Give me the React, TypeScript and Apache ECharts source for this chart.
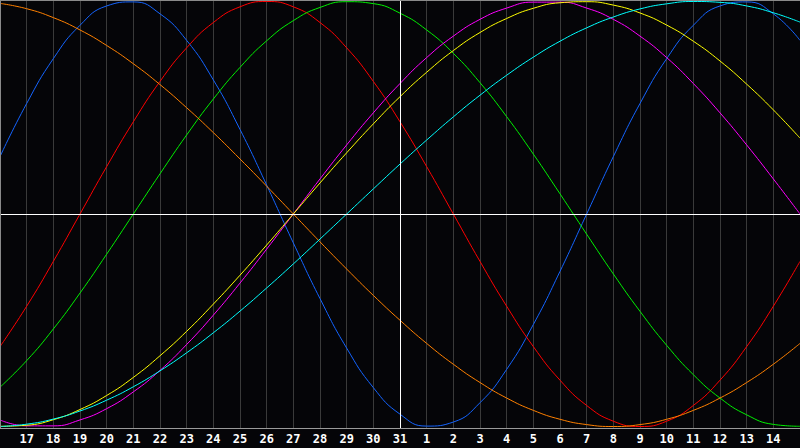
import React, { useEffect, useRef } from "react";
import * as echarts from "echarts";

const days = [
  "16", "17", "18", "19", "20", "21", "22", "23", "24", "25", "26", "27", "28", "29", "30", "31",
  "1", "2", "3", "4", "5", "6", "7", "8", "9", "10", "11", "12", "13", "14", "15",
];

// blue (23)
const physical = [
  0.270, 0.520, 0.731, 0.888, 0.979, 0.998, 0.942, 0.817, 0.631, 0.398, 0.136,
  -0.136, -0.398, -0.631, -0.817, -0.942, -0.998, -0.979, -0.888, -0.731, -0.520,
  -0.270, 0.0, 0.270, 0.520, 0.731, 0.888, 0.979, 0.998, 0.942, 0.817,
];
// red (28)
const emotional = [
  -0.624, -0.434, -0.223, 0.0, 0.223, 0.434, 0.624, 0.782, 0.901, 0.975, 1.0,
  0.975, 0.901, 0.782, 0.624, 0.434, 0.223, 0.0, -0.223, -0.434, -0.624,
  -0.782, -0.901, -0.975, -1.0, -0.975, -0.901, -0.782, -0.624, -0.434, -0.223,
];
// green (33)
const intellectual = [
  -0.815, -0.690, -0.541, -0.372, -0.189, 0.0, 0.189, 0.372, 0.541, 0.690, 0.815,
  0.910, 0.972, 0.999, 0.990, 0.945, 0.866, 0.756, 0.618, 0.458, 0.282,
  0.095, -0.095, -0.282, -0.458, -0.618, -0.756, -0.866, -0.945, -0.990, -0.999,
];
// magenta (38)
const intuitive = [
  -0.969, -0.997, -0.997, -0.969, -0.916, -0.837, -0.736, -0.614, -0.476, -0.325, -0.165,
  0.0, 0.165, 0.325, 0.476, 0.614, 0.736, 0.837, 0.916, 0.969, 0.997,
  0.997, 0.969, 0.916, 0.837, 0.736, 0.614, 0.476, 0.325, 0.165, 0.0,
];
// yellow (43)
const aesthetic = [
  -0.999, -0.994, -0.968, -0.920, -0.854, -0.769, -0.667, -0.552, -0.424, -0.288, -0.146,
  0.0, 0.146, 0.288, 0.424, 0.552, 0.667, 0.769, 0.854, 0.920, 0.968,
  0.994, 0.999, 0.983, 0.946, 0.889, 0.813, 0.720, 0.611, 0.490, 0.357,
];
// orange (48)
const awareness = [
  0.991, 0.966, 0.924, 0.866, 0.793, 0.707, 0.609, 0.5, 0.383, 0.259, 0.131,
  0.0, -0.131, -0.259, -0.383, -0.5, -0.609, -0.707, -0.793, -0.866, -0.924,
  -0.966, -0.991, -1.0, -0.991, -0.966, -0.924, -0.866, -0.793, -0.707, -0.609,
];
// cyan (53)
const spiritual = [
  -1.0, -0.989, -0.965, -0.927, -0.876, -0.813, -0.738, -0.653, -0.559, -0.457, -0.348,
  -0.235, -0.118, 0.0, 0.118, 0.235, 0.348, 0.457, 0.559, 0.653, 0.738,
  0.813, 0.876, 0.927, 0.965, 0.989, 1.0, 0.996, 0.979, 0.947, 0.903,
];

const curves = [
  { name: "physical", data: physical, color: "#1464ff" },
  { name: "emotional", data: emotional, color: "#ff0000" },
  { name: "intellectual", data: intellectual, color: "#00f000" },
  { name: "intuitive", data: intuitive, color: "#ff00ff" },
  { name: "aesthetic", data: aesthetic, color: "#ffff00" },
  { name: "awareness", data: awareness, color: "#ff8000" },
  { name: "spiritual", data: spiritual, color: "#00ffff" },
];

const todayIndex = 15;

export default function App() {
  const ref = useRef<HTMLDivElement>(null);
  useEffect(() => {
    if (!ref.current) return;
    const chart = echarts.init(ref.current, null, { renderer: "svg" });
    const series: any[] = curves.map((c, i) => ({
      name: c.name,
      type: "line",
      data: c.data,
      smooth: true,
      showSymbol: false,
      symbol: "none",
      z: 3,
      lineStyle: { color: c.color, width: 1 },
      silent: true,
    }));
    series.unshift({
      type: "line",
      data: [],
      z: 2,
      markLine: {
        silent: true,
        symbol: "none",
        label: { show: false },
        lineStyle: { color: "#ffffff", width: 1, type: "solid" },
        data: [{ xAxis: todayIndex }, { yAxis: 0 }],
      },
    });
    chart.setOption({
      animation: false,
      backgroundColor: "#050508",
      grid: { left: 0, right: 0, top: 0, height: 428, containLabel: false },
      xAxis: {
        type: "category",
        data: days,
        boundaryGap: false,
        axisLine: { show: false },
        axisTick: { show: false },
        axisLabel: {
          interval: (idx: number) => idx > 0 && idx < days.length - 1,
          color: "#ffffff",
          fontFamily: "DejaVu Sans Mono",
          fontWeight: "bold",
          fontSize: 12,
          verticalAlign: "middle",
          margin: 11,
        },
        splitLine: {
          show: true,
          interval: 0,
          lineStyle: { color: "#3a3a3a", width: 1 },
        },
      },
      yAxis: {
        type: "value",
        min: -1.007,
        max: 1.007,
        show: false,
        splitLine: { show: false },
      },
      graphic: [
        { type: "line", shape: { x1: 0, y1: 0.5, x2: 800, y2: 0.5 }, style: { stroke: "#8a8a8a", lineWidth: 1 }, z: 10 },
        { type: "line", shape: { x1: 0.5, y1: 0, x2: 0.5, y2: 428 }, style: { stroke: "#8a8a8a", lineWidth: 1 }, z: 10 },
        { type: "line", shape: { x1: 0, y1: 428.5, x2: 800, y2: 428.5 }, style: { stroke: "#9a9a9a", lineWidth: 1 }, z: 10 },
      ],
      series,
    });
    return () => chart.dispose();
  }, []);
  return (
    <div
      ref={ref}
      style={{ position: "fixed", left: 0, top: 0, width: 800, height: 448 }}
    />
  );
}
